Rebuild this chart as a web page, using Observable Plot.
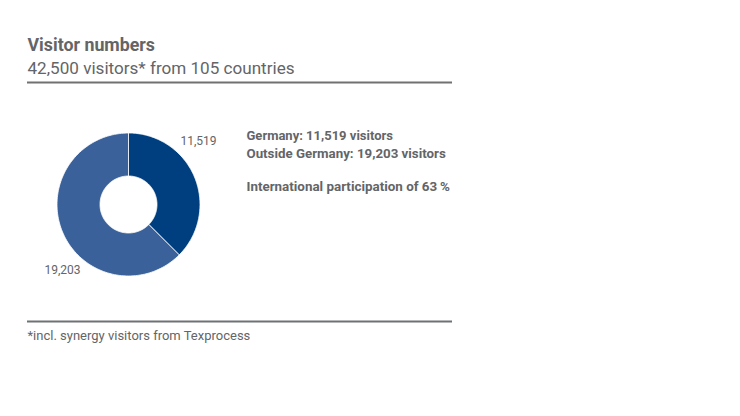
<!DOCTYPE html>
<html>
<head>
<meta charset="utf-8">
<script src="https://cdn.jsdelivr.net/npm/d3@7"></script>
<script src="https://cdn.jsdelivr.net/npm/@observablehq/plot@0.6"></script>
<style>
  html, body { margin: 0; padding: 0; background: #fff; }
  #chart svg { display: block; }
</style>
</head>
<body>
<div id="chart"></div>
<script>
// ---- data ----
const categories = ["Germany", "Outside Germany"];
const values = [11519, 19203];
const valueLabels = ["11,519", "19,203"];
const colors = ["#003f7f", "#3a6199"];
const title = "Visitor numbers";
const subtitle = "42,500 visitors* from 105 countries";
const infoLines = ["Germany: 11,519 visitors", "Outside Germany: 19,203 visitors", "International participation of 63\u2009%"];
const footnote = "*incl. synergy visitors from Texprocess";

// ---- donut geometry (through Plot's x/y scales) ----
const cx = 128, cy = 204, rOuter = 71.5, rInner = 28.5;
const pie = d3.pie().sort(null).value(d => d.value)(categories.map((c, i) => ({category: c, value: values[i]})));
const polys = [];
for (const s of pie) {
  const n = 120;
  for (let k = 0; k <= n; k++) {
    const a = s.startAngle + (s.endAngle - s.startAngle) * k / n;
    polys.push({category: s.data.category, x: cx + rOuter * Math.sin(a), y: cy - rOuter * Math.cos(a)});
  }
  for (let k = n; k >= 0; k--) {
    const a = s.startAngle + (s.endAngle - s.startAngle) * k / n;
    polys.push({category: s.data.category, x: cx + rInner * Math.sin(a), y: cy - rInner * Math.cos(a)});
  }
}
const labelData = pie.map((s, i) => ({category: s.data.category, label: valueLabels[i], a: s.startAngle}));

const font = "Roboto, 'Liberation Sans', sans-serif";
const textColor = "#636567";

const plot = Plot.plot({
  width: 740,
  height: 416,
  margin: 0,
  style: {fontFamily: font, background: "#fff"},
  x: {domain: [0, 740], range: [0, 740], axis: null},
  y: {domain: [0, 416], range: [0, 416], axis: null},
  color: {domain: categories, range: colors},
  marks: [
    Plot.text([title], {x: 27, y: 45, text: d => d, textAnchor: "start", fontSize: 17.8, fontWeight: "bold", fill: textColor}),
    Plot.text([subtitle], {x: 27, y: 68, text: d => d, textAnchor: "start", fontSize: 17.1, fill: textColor}),
    Plot.ruleY([82], {x1: 27, x2: 452, stroke: "#6f7173", strokeWidth: 2}),
    Plot.line(polys, {x: "x", y: "y", z: "category", fill: "category", stroke: "#ffffff", strokeWidth: 0.8, curve: "linear-closed"}),
    Plot.text([labelData[0]], {x: 180, y: 141, text: "label", textAnchor: "start", fontSize: 12, fill: textColor}),
    Plot.text([labelData[1]], {x: 80, y: 270, text: "label", textAnchor: "end", fontSize: 12, fill: textColor}),
    Plot.text([infoLines[0]], {x: 246, y: 135, text: d => d, textAnchor: "start", fontSize: 13, fontWeight: "bold", fill: textColor}),
    Plot.text([infoLines[1]], {x: 246, y: 153, text: d => d, textAnchor: "start", fontSize: 13.3, fontWeight: "bold", fill: textColor}),
    Plot.text([infoLines[2]], {x: 246, y: 186, text: d => d, textAnchor: "start", fontSize: 13.4, fontWeight: "bold", fill: textColor}),
    Plot.ruleY([321], {x1: 27, x2: 452, stroke: "#6f7173", strokeWidth: 2}),
    Plot.text([footnote], {x: 27, y: 335, text: d => d, textAnchor: "start", fontSize: 13, fill: textColor})
  ]
});
document.getElementById("chart").appendChild(plot);
</script>
</body>
</html>
